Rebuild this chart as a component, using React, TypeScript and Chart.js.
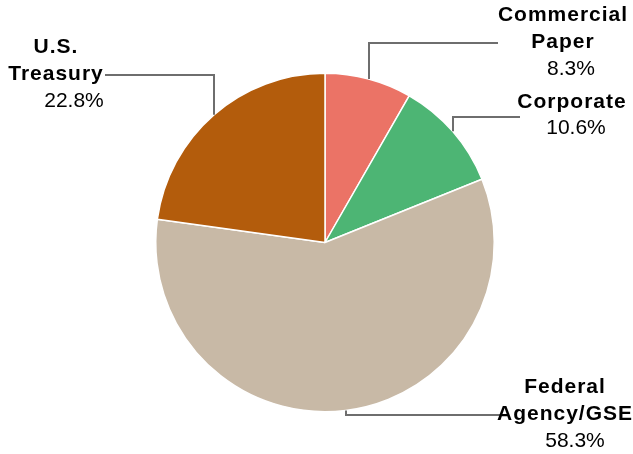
import React, { useEffect, useRef } from "react";
import { Chart, registerables } from "chart.js";

Chart.register(...registerables);

const categories = ["Commercial Paper", "Corporate", "Federal Agency/GSE", "U.S. Treasury"];
const shares = [8.3, 10.6, 58.3, 22.8];
const colors = ["#EB7366", "#4DB574", "#C8B9A6", "#B35C0C"];

// label layout: centre x of name lines, centre x of value, y of first line, leader y, leader end x
const labelLayout = [
  { nameX: 563, valueX: 571, firstY: 15, leaderY: 43, leaderEndX: 498 },
  { nameX: 572, valueX: 576, firstY: 102, leaderY: 117, leaderEndX: 520 },
  { nameX: 565, valueX: 575, firstY: 387, leaderY: 415, leaderEndX: 500 },
  { nameX: 56, valueX: 74, firstY: 47, leaderY: 75, leaderEndX: 105 },
];

const LINE_H = 27.5;

const labelPlugin = {
  id: "leaderLabels",
  afterDatasetsDraw(chart: any) {
    const ctx = chart.ctx as CanvasRenderingContext2D;
    const meta = chart.getDatasetMeta(0);
    meta.data.forEach((arc: any, i: number) => {
      const { x, y, startAngle, endAngle, outerRadius } = arc.getProps(
        ["x", "y", "startAngle", "endAngle", "outerRadius"],
        true
      );
      const mid = (startAngle + endAngle) / 2;
      const ax = x + Math.cos(mid) * outerRadius;
      const ay = y + Math.sin(mid) * outerRadius;
      const L = labelLayout[i];
      ctx.save();
      ctx.strokeStyle = "#6E6E6E";
      ctx.lineWidth = 2;
      ctx.beginPath();
      ctx.moveTo(Math.round(ax), ay);
      ctx.lineTo(Math.round(ax), L.leaderY);
      ctx.lineTo(L.leaderEndX, L.leaderY);
      ctx.stroke();

      const lines = categories[i].split(" ");
      ctx.fillStyle = "#000";
      ctx.textAlign = "center";
      ctx.textBaseline = "middle";
      ctx.font = "bold 21px 'Liberation Sans', Arial, sans-serif";
      (ctx as any).letterSpacing = "1px";
      lines.forEach((t, k) => {
        ctx.fillText(t, L.nameX, L.firstY + k * LINE_H);
      });
      (ctx as any).letterSpacing = "0px";
      ctx.font = "21px 'Liberation Sans', Arial, sans-serif";
      const vy = L.firstY + lines.length * LINE_H - 1;
      ctx.fillText(shares[i].toFixed(1) + "%", L.valueX, vy);
      ctx.restore();
    });
  },
};

export default function App() {
  const ref = useRef<HTMLCanvasElement>(null);
  useEffect(() => {
    if (!ref.current) return;
    const chart = new Chart(ref.current, {
      type: "pie",
      data: {
        labels: categories,
        datasets: [
          {
            data: shares,
            backgroundColor: colors,
            borderColor: "#FFFFFF",
            borderWidth: 1.5,
          },
        ],
      },
      options: {
        responsive: false,
        animation: false,
        layout: { padding: { top: 72, bottom: 41, left: 155, right: 138 } },
        plugins: {
          legend: { display: false },
          tooltip: { enabled: false },
          title: { display: false },
        },
      },
      plugins: [labelPlugin],
    });
    return () => chart.destroy();
  }, []);
  return (
    <div style={{ position: "fixed", left: 0, top: 0, width: 633, height: 454, background: "#fff" }}>
      <canvas ref={ref} width={633} height={454} style={{ width: 633, height: 454 }} />
    </div>
  );
}
